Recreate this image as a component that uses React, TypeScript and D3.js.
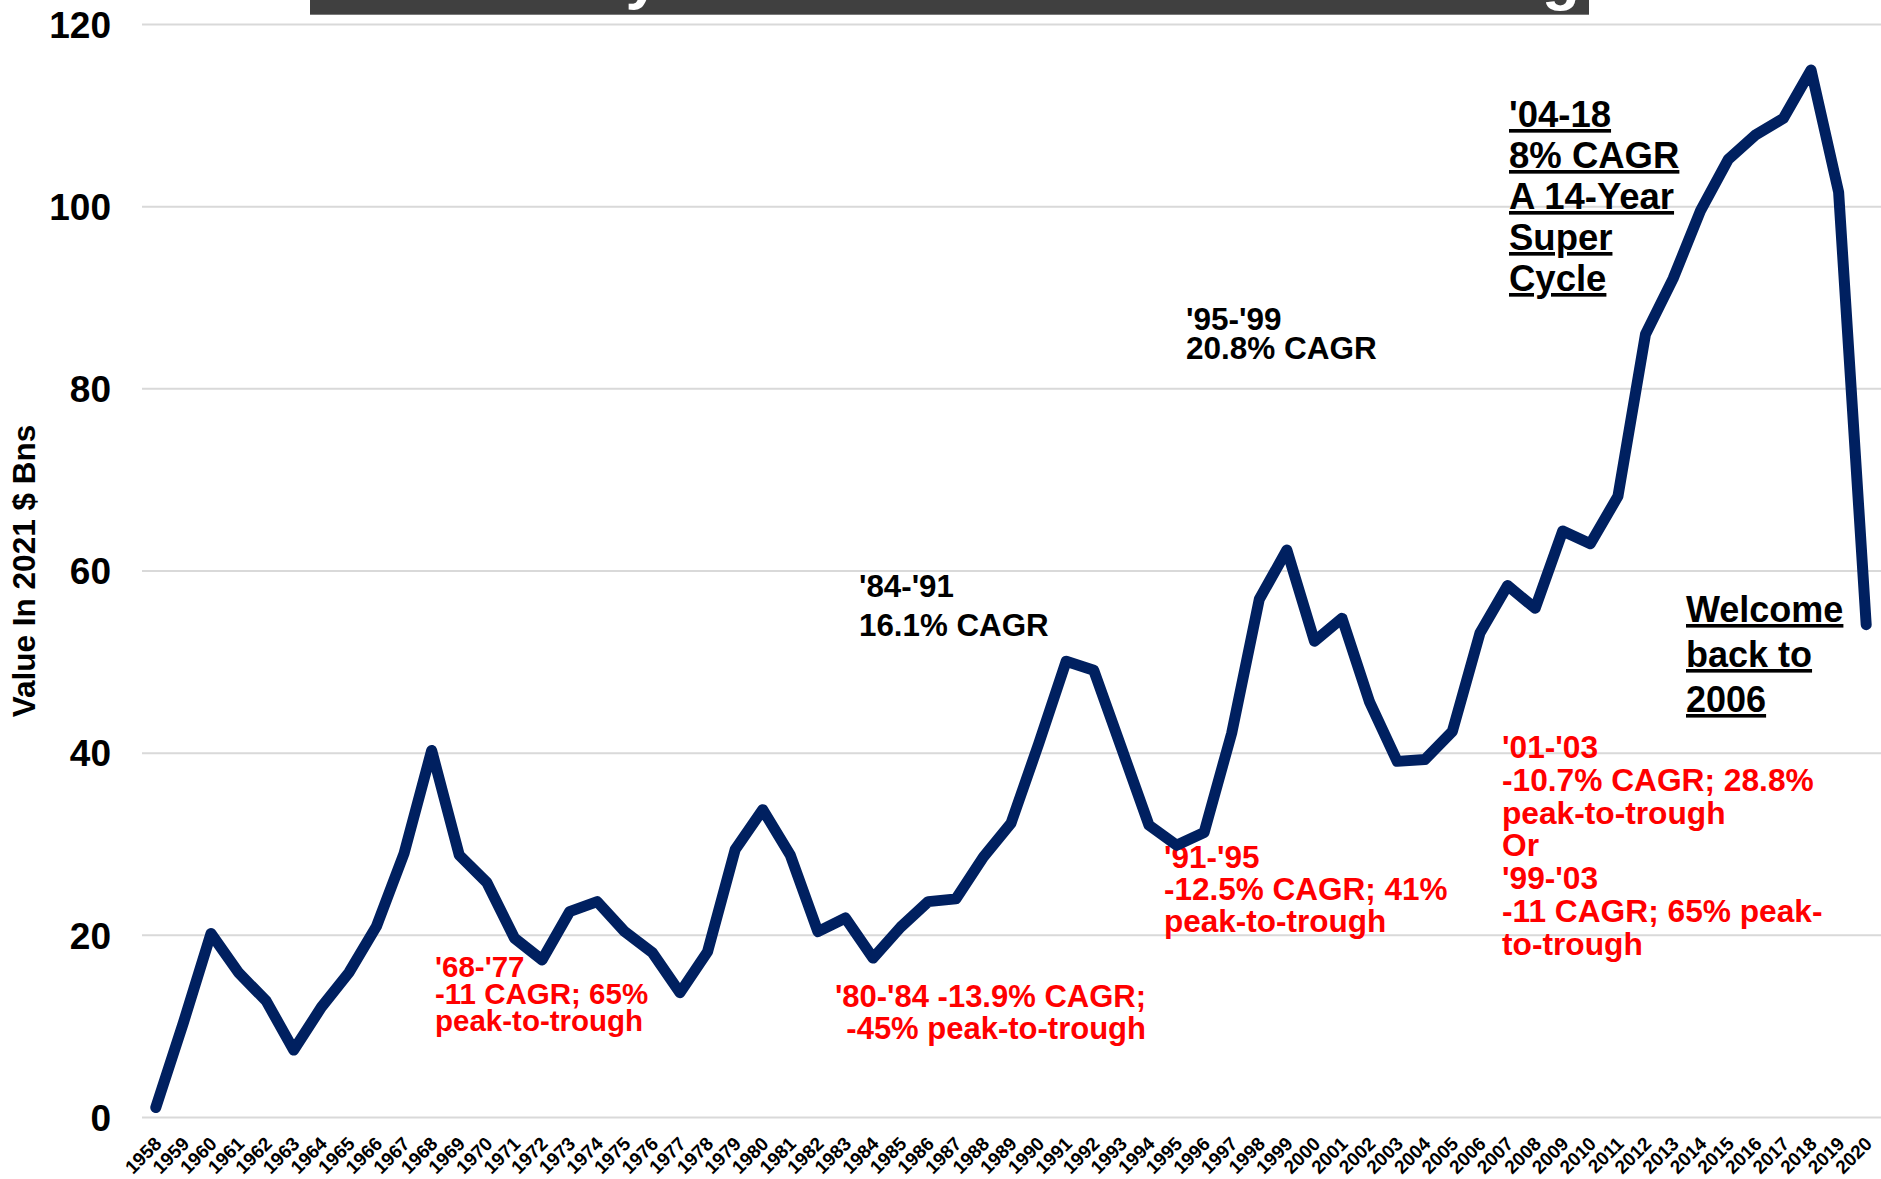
import React from 'react';
import * as d3 from 'd3';

const years: number[] = [
  1958, 1959, 1960, 1961, 1962, 1963, 1964, 1965, 1966, 1967,
  1968, 1969, 1970, 1971, 1972, 1973, 1974, 1975, 1976, 1977,
  1978, 1979, 1980, 1981, 1982, 1983, 1984, 1985, 1986, 1987,
  1988, 1989, 1990, 1991, 1992, 1993, 1994, 1995, 1996, 1997,
  1998, 1999, 2000, 2001, 2002, 2003, 2004, 2005, 2006, 2007,
  2008, 2009, 2010, 2011, 2012, 2013, 2014, 2015, 2016, 2017,
  2018, 2019, 2020,
];

const values: number[] = [
  1.1, 10.4, 20.2, 15.9, 12.8, 7.4, 12.1, 15.9, 21.0, 29.0,
  40.3, 28.8, 25.8, 19.7, 17.3, 22.6, 23.7, 20.4, 18.1, 13.7,
  18.2, 29.4, 33.8, 28.8, 20.4, 21.9, 17.5, 20.9, 23.7, 24.0,
  28.6, 32.3, 41.0, 50.1, 49.1, 40.6, 32.1, 29.9, 31.3, 42.2,
  56.9, 62.3, 52.3, 54.8, 45.6, 39.1, 39.3, 42.4, 53.2, 58.4,
  55.9, 64.4, 63.0, 68.2, 86.0, 92.1, 99.6, 105.2, 107.9, 109.7,
  115.0, 101.6, 54.1,
];

const yTicks: number[] = [0, 20, 40, 60, 80, 100, 120];

const yAxisTitle = 'Value In 2021 $ Bns';

const note6877: string[] = ["'68-'77", '-11 CAGR; 65%', 'peak-to-trough'];
const note8084: string[] = ["'80-'84 -13.9% CAGR;", ' -45% peak-to-trough'];
const note9195: string[] = ["'91-'95", '-12.5% CAGR; 41%', 'peak-to-trough'];
const note0103: string[] = [
  "'01-'03", '-10.7% CAGR; 28.8%', 'peak-to-trough', 'Or', "'99-'03",
  '-11 CAGR; 65% peak-', 'to-trough',
];
const note8491: string[] = ["'84-'91", '16.1% CAGR'];
const note9599: string[] = ["'95-'99", '20.8% CAGR'];
const noteSuper: string[] = ["'04-18", '8% CAGR', 'A 14-Year', 'Super', 'Cycle'];
const noteWelcome: string[] = ['Welcome', 'back to', '2006'];

const titleLeft = 'M&A Activity';
const titleRight = 'Dealmaking';

const W = 1881;
const H = 1179;
const FONT = '"Liberation Sans", Arial, Helvetica, sans-serif';
const NAVY = '#002060';
const RED = '#ff0000';

type Block = {
  lines: string[];
  x: number;
  y: number;
  dy: number;
  size: number;
  color: string;
  anchor?: 'start' | 'end' | 'middle';
  underline?: boolean;
};

function TextBlock({ b }: { b: Block }) {
  return (
    <text
      fontFamily={FONT}
      fontWeight="bold"
      fontSize={b.size}
      fill={b.color}
      textAnchor={b.anchor || 'start'}
      style={b.underline ? { textDecoration: 'underline' } : undefined}
    >
      {b.lines.map((l, i) => (
        <tspan key={i} x={b.x} y={b.y + i * b.dy} style={{ whiteSpace: 'pre' }}>
          {l}
        </tspan>
      ))}
    </text>
  );
}

export default function App() {
  const x = d3.scalePoint<number>().domain(years).range([142, 1880]).padding(0.5);
  const y = d3.scaleLinear().domain([0, 120]).range([1117.5, 24.5]);
  const linePath = d3
    .line<number>()
    .x((_, i) => x(years[i]) as number)
    .y((d) => y(d))(values) as string;

  const blocks: Block[] = [
    { lines: note6877, x: 435, y: 977, dy: 27, size: 29.5, color: RED },
    { lines: note8084, x: 1146, y: 1007, dy: 31.5, size: 31, color: RED, anchor: 'end' },
    { lines: note9195, x: 1164, y: 868, dy: 32, size: 31.5, color: RED },
    { lines: note0103, x: 1502, y: 758, dy: 32.8, size: 31.7, color: RED },
    { lines: note8491, x: 859, y: 597, dy: 39, size: 31.3, color: '#000' },
    { lines: note9599, x: 1186, y: 330, dy: 29, size: 31.5, color: '#000' },
    { lines: noteSuper, x: 1509, y: 127, dy: 41, size: 36.5, color: '#000', underline: true },
    { lines: noteWelcome, x: 1686, y: 622, dy: 45, size: 36, color: '#000', underline: true },
  ];

  return (
    <div style={{ position: 'absolute', left: 0, top: 0, width: W, height: H, background: '#fff' }}>
      <svg width={W} height={H} viewBox={`0 0 ${W} ${H}`} style={{ display: 'block', overflow: 'hidden' }}>
        <rect x={0} y={0} width={W} height={H} fill="#fff" />
        {yTicks.map((t) => (
          <line key={t} x1={142} x2={W} y1={y(t)} y2={y(t)} stroke="#d9d9d9" strokeWidth={2} />
        ))}
        <rect x={310} y={-40} width={1279} height={54.7} fill="#404040" />
        <text x={660} y={-3} fontFamily={FONT} fontWeight="bold" fontSize={62} fill="#fff" textAnchor="end">
          {titleLeft}
        </text>
        <text x={1580} y={-2} fontFamily={FONT} fontWeight="bold" fontSize={62} fill="#fff" textAnchor="end">
          {titleRight}
        </text>
        {yTicks.map((t) => (
          <text
            key={t}
            x={111}
            y={y(t)}
            dy="0.36em"
            textAnchor="end"
            fontFamily={FONT}
            fontWeight="bold"
            fontSize={37}
            fill="#000"
          >
            {t}
          </text>
        ))}
        <text
          transform={`translate(35, 571) rotate(-90)`}
          textAnchor="middle"
          fontFamily={FONT}
          fontWeight="bold"
          fontSize={31.5}
          fill="#000"
        >
          {yAxisTitle}
        </text>
        {years.map((yr) => (
          <text
            key={yr}
            transform={`translate(${(x(yr) as number) + 7}, 1145) rotate(-45)`}
            textAnchor="end"
            fontFamily={FONT}
            fontWeight="bold"
            fontSize={19}
            fill="#000"
          >
            {yr}
          </text>
        ))}
        {blocks.map((b, i) => (
          <TextBlock key={i} b={b} />
        ))}
        <path
          d={linePath}
          fill="none"
          stroke={NAVY}
          strokeWidth={11}
          strokeLinejoin="round"
          strokeLinecap="round"
        />
      </svg>
    </div>
  );
}
